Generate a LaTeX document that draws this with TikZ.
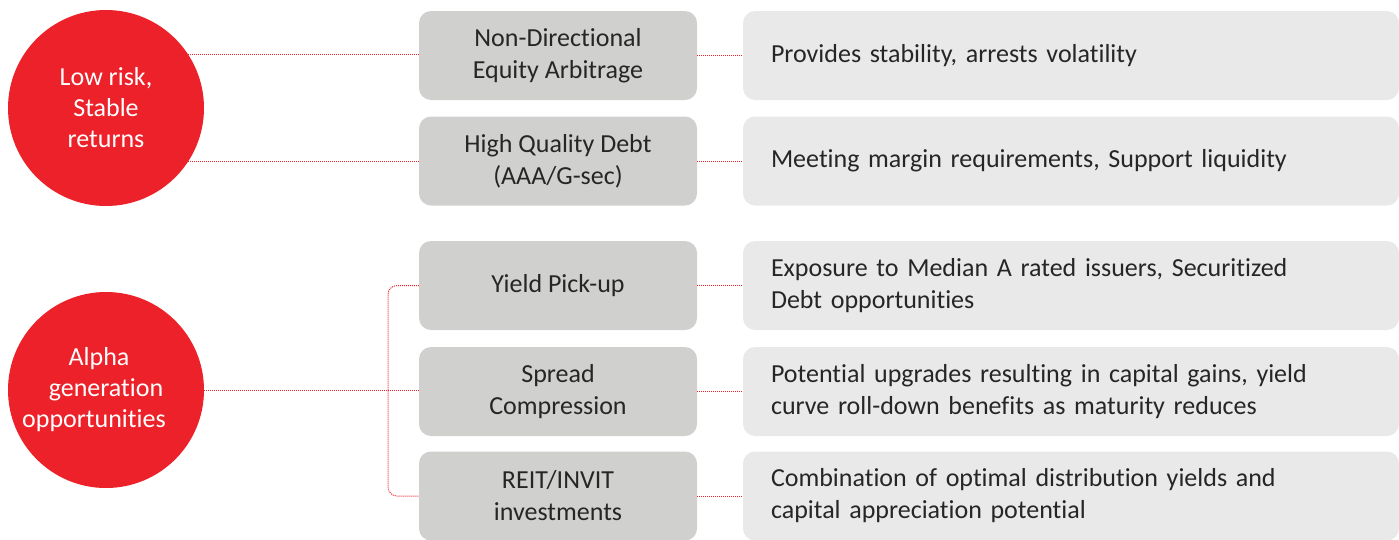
\documentclass[tikz,border=0pt]{standalone}
\usepackage{fontspec}
\setmainfont{Carlito}[Ligatures=NoCommon]
\usetikzlibrary{arrows,positioning}
\definecolor{alphared}{HTML}{ED2129}
\definecolor{stratgray}{HTML}{D0D0CE}
\definecolor{notegray}{HTML}{E9E9E9}
\definecolor{inktext}{HTML}{262626}

\begin{document}
\begin{tikzpicture}[x=1pt, y=-1pt,
		theme/.style={circle, fill=alphared, text=white, minimum size=196pt, inner sep=0pt,
			align=center, font=\fontsize{26}{31}\selectfont},
		strategy/.style={rectangle, rounded corners=12pt, fill=stratgray, text=inktext,
			minimum width=278pt, minimum height=89pt, align=center, font=\fontsize{26}{32}\selectfont},
		benefit/.style={rectangle, rounded corners=12pt, fill=notegray, text=inktext,
			minimum height=89pt, text width=600pt, inner xsep=28pt, align=left,
			font=\fontsize{26}{32}\selectfont},
		link/.style={densely dotted, alphared, line width=1pt}]
		\useasboundingbox (0, 0) rectangle (1399, 539);
		\path (106, 108)  node[theme] (lowrisk) {Low risk,\\Stable\\returns}
		      (106, 390)  node[theme] (alpha)   {Alpha\hspace*{14pt}\\generation\hspace*{28pt}\\opportunities\hspace*{24pt}}
		      (558, 55.5) node[strategy] (ndea)   {Non-Directional\\Equity Arbitrage}
		      (558, 161)  node[strategy] (hqd)    {High Quality Debt\\(AAA/G-sec)}
		      (558, 285.5) node[strategy] (yield) {Yield Pick-up}
		      (558, 391.5) node[strategy] (spread) {Spread\\Compression}
		      (558, 496)  node[strategy] (reit)   {REIT/INVIT\\investments}
		      (1071, 55.5) node[benefit] (stab)   {Provides stability, arrests volatility}
		      (1071, 161)  node[benefit] (margin) {Meeting margin requirements, Support liquidity}
		      (1071, 285.5) node[benefit] (expo)  {Exposure to Median A rated issuers, Securitized\\Debt opportunities}
		      (1071, 391.5) node[benefit] (upgr)  {Potential upgrades resulting in capital gains, yield\\curve roll-down benefits as maturity reduces}
		      (1071, 496)  node[benefit] (combo)  {Combination of optimal distribution yields and\\capital appreciation potential};
		\coordinate (fork) at (388, 390);
		
		\draw[link] (lowrisk.33) -- (lowrisk.33 -| ndea.west);
		\draw[link] (lowrisk.-33) -- (lowrisk.-33 -| hqd.west);
		\draw[link] (alpha.east) -- (alpha.east -| spread.west);
		\draw[link, rounded corners=9pt] (yield.west) -| (fork) |- (reit.west);
		\foreach \s/\b in {ndea/stab, hqd/margin, yield/expo, spread/upgr, reit/combo}
			\draw[link] (\s.east) -- (\b.west);
	\end{tikzpicture}
\end{document}
